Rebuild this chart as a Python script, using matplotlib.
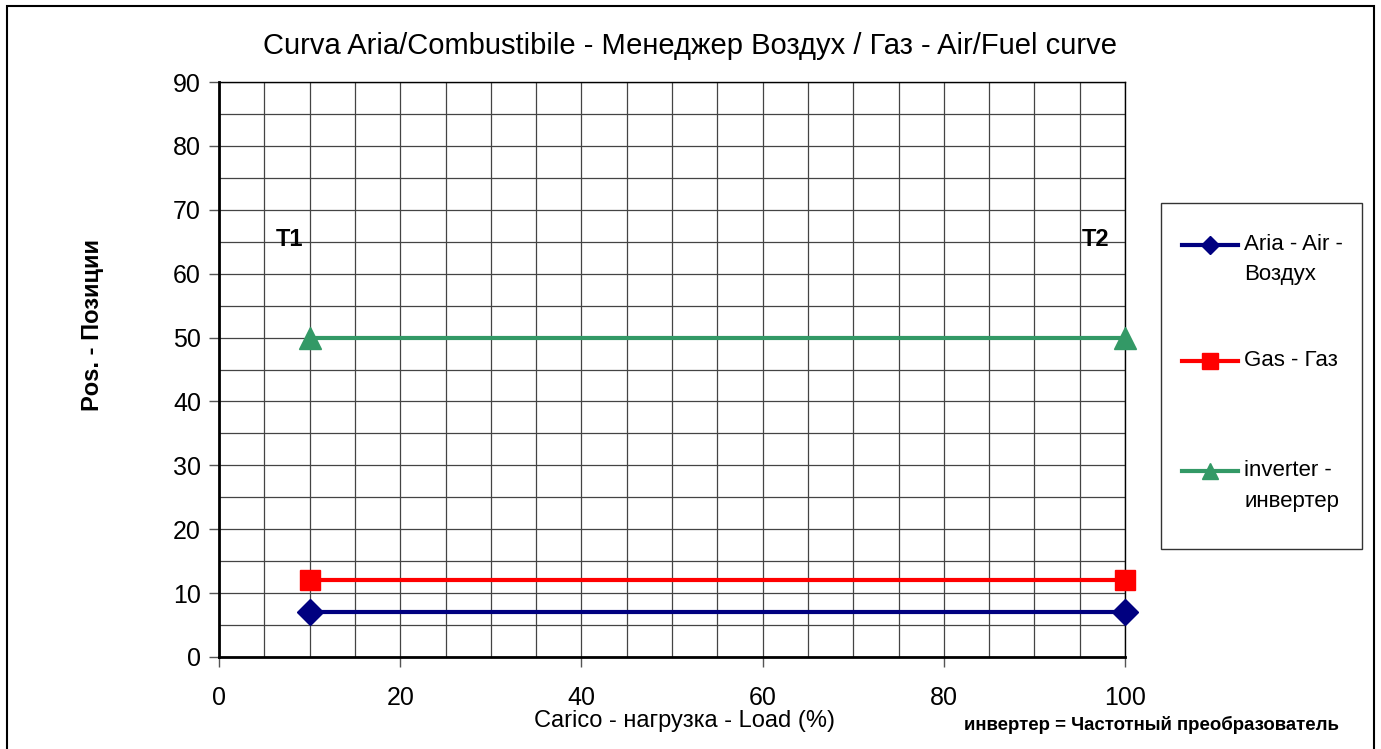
import matplotlib
matplotlib.use('Agg')
import matplotlib.pyplot as plt
from matplotlib.patches import Rectangle

plt.rcParams['font.family'] = ['Liberation Sans', 'DejaVu Sans']

load = [10, 100]
air = [7, 7]
gas = [12, 12]
inverter = [50, 50]
labels = ['Aria - Air -\nВоздух', 'Gas - Газ', 'inverter -\nинвертер']

fig = plt.figure(figsize=(13.81, 7.49), dpi=100)
ax = fig.add_axes([219/1381, 1 - 657/749, (1125-219)/1381, (657-82)/749])

# outer frame
fig.patches.append(Rectangle((7/1381, -0.01), (1374-7)/1381, 1 - 6/749 + 0.01,
                             transform=fig.transFigure, fill=False,
                             edgecolor='black', linewidth=1.5))

ax.set_xlim(0, 100)
ax.set_ylim(0, 90)
ax.set_xticks(range(0, 101, 20))
ax.set_yticks(range(0, 91, 10))
ax.set_xticks(range(0, 101, 5), minor=True)
ax.set_yticks(range(0, 91, 5), minor=True)
ax.grid(True, which='both', color='#444444', linewidth=0.9)
ax.tick_params(which='minor', length=0)
ax.tick_params(which='major', length=7, width=1, labelsize=18, color='#555555')
ax.tick_params(axis='x', pad=14)
ax.tick_params(axis='y', pad=6)
ax.set_axisbelow(True)
for s in ['left', 'bottom']:
    ax.spines[s].set_linewidth(2)
for s in ['top', 'right']:
    ax.spines[s].set_linewidth(1)

l1, = ax.plot(load, air, color='#000080', lw=3, marker='D', ms=13, clip_on=False, zorder=5)
l2, = ax.plot(load, gas, color='#ff0000', lw=3, marker='s', ms=15, clip_on=False, zorder=5)
l3, = ax.plot(load, inverter, color='#339966', lw=3, marker='^', ms=16, clip_on=False, zorder=5)

ax.text(7.8, 65.3, 'T1', fontsize=17, fontweight='bold', ha='center', va='center')
ax.text(96.8, 65.3, 'T2', fontsize=17, fontweight='bold', ha='center', va='center')

fig.text(690/1381, 1 - 46/749, 'Curva Aria/Combustibile - Менеджер Воздух / Газ - Air/Fuel curve',
         fontsize=21, ha='center', va='center')
fig.text(685/1381, 1 - 721/749, 'Carico - нагрузка - Load (%)', fontsize=17,
         ha='center', va='center')
fig.text(93/1381, 1 - 325/749, 'Pos. - Позиции', fontsize=17, fontweight='bold',
         rotation=90, ha='center', va='center')
fig.text(1151/1381, 1 - 725/749, 'инвертер = Частотный преобразователь', fontsize=13.4,
         fontweight='bold', ha='center', va='center')

# legend
fig.patches.append(Rectangle((1161/1381, 1 - 549/749), (1362-1161)/1381, (549-203)/749,
                             transform=fig.transFigure, fill=False,
                             edgecolor='#333333', linewidth=1))
leg_h = [l1, l2, l3]
leg_y = [245, 361, 471]
leg_ms = [9, 11, 11]
for h, lab, yy, ms in zip(leg_h, labels, leg_y, leg_ms):
    y = 1 - yy/749
    fig.lines.append(plt.Line2D([1182/1381, 1238/1381], [y, y], transform=fig.transFigure,
                                color=h.get_color(), lw=3))
    fig.lines.append(plt.Line2D([1210/1381], [y], transform=fig.transFigure,
                                color=h.get_color(), marker=h.get_marker(), ms=ms, lw=0))
    parts = lab.split('\n')
    for i, p in enumerate(parts):
        fig.text(1244/1381, y - i * 30/749, p, fontsize=16, ha='left', va='center')

fig.savefig('out.png', dpi=100)
